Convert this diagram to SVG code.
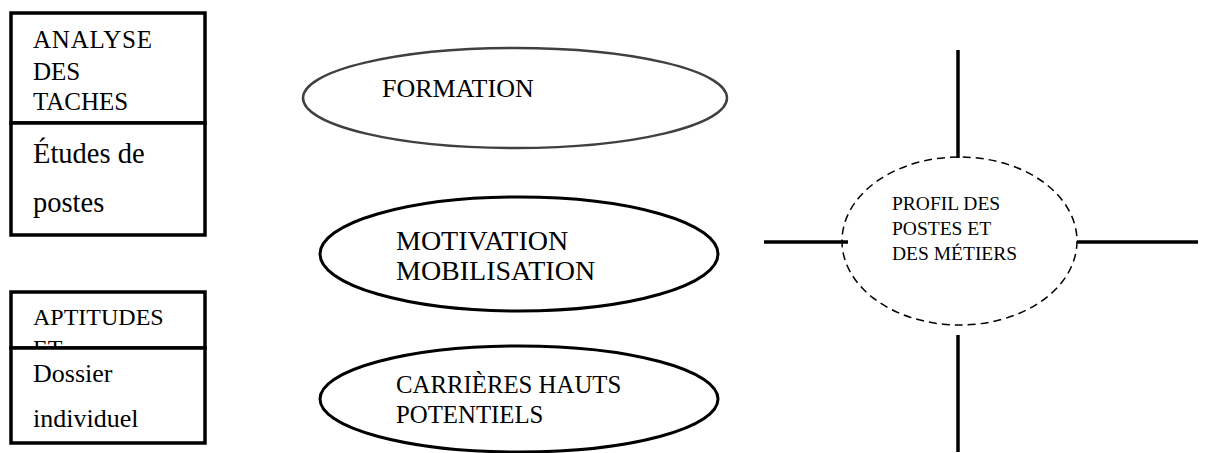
<svg xmlns="http://www.w3.org/2000/svg" width="1205" height="453" viewBox="0 0 1205 453">
<style>
text{font-family:'Liberation Serif',Tinos,'Times New Roman',Times,'Nimbus Roman','DejaVu Serif',serif;fill:#000}
.box{fill:#fff;stroke:#000;stroke-width:3.5}
.conn{stroke:#000;stroke-width:3.5;fill:none}
</style>
<rect width="1205" height="453" fill="#fff"/>
<g id="connectors">
<line class="conn" x1="958" y1="50" x2="958" y2="158"/>
<line class="conn" x1="958" y1="335" x2="958" y2="452"/>
<line class="conn" x1="764" y1="242" x2="848" y2="242"/>
<line class="conn" x1="1077" y1="242" x2="1198" y2="242"/>
</g>
<g id="analyse">
<rect class="box" x="11" y="13" width="194" height="110"/>
<text x="33" y="48" font-size="25" letter-spacing="0.8">ANALYSE</text>
<text x="33" y="80" font-size="25">DES</text>
<text x="33" y="110" font-size="25">TACHES</text>
<rect class="box" x="11" y="123" width="194" height="112"/>
<text x="33" y="163" font-size="28.5">Études de</text>
<text x="33" y="212" font-size="28.5">postes</text>
</g>
<g id="aptitudes">
<rect class="box" x="11" y="292" width="194" height="56"/>
<text x="33" y="325" font-size="24">APTITUDES</text>
<text x="33" y="356" font-size="24">ET</text>
<rect class="box" x="11" y="348" width="194" height="95"/>
<text x="33" y="382" font-size="26">Dossier</text>
<text x="33" y="427" font-size="26">individuel</text>
</g>
<g id="formation">
<ellipse cx="515" cy="98" rx="212" ry="50" fill="#fff" stroke="#404040" stroke-width="2.5"/>
<text x="382" y="97" font-size="26">FORMATION</text>
</g>
<g id="motivation">
<ellipse cx="519" cy="254" rx="199" ry="57" fill="#fff" stroke="#000" stroke-width="3"/>
<text x="396" y="250" font-size="28">MOTIVATION</text>
<text x="396" y="280" font-size="28">MOBILISATION</text>
</g>
<g id="carrieres">
<ellipse cx="519" cy="399" rx="199" ry="53" fill="#fff" stroke="#000" stroke-width="3"/>
<text x="396" y="393" font-size="24.8">CARRIÈRES HAUTS</text>
<text x="396" y="423" font-size="24.8">POTENTIELS</text>
</g>
<g id="profil">
<ellipse cx="959.5" cy="241" rx="117.5" ry="84" fill="none" stroke="#000" stroke-width="1.5" stroke-dasharray="8,5"/>
<text x="892" y="210" font-size="19.5">PROFIL DES</text>
<text x="892" y="235" font-size="19.5">POSTES ET</text>
<text x="892" y="260" font-size="19.5">DES MÉTIERS</text>
</g>
</svg>
